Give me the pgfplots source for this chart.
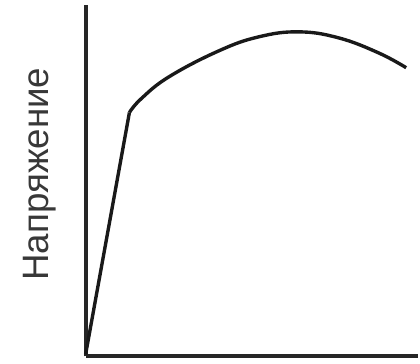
\documentclass[border=0pt]{standalone}
\usepackage{pgfplots}
\pgfplotsset{compat=1.18}
\usepackage{fontspec}
\setmainfont{Liberation Sans}
\definecolor{labelgray}{HTML}{383838}
\begin{document}
\begin{tikzpicture}[x=1bp,y=1bp]
\begin{axis}[
  at={(0,0)}, anchor=origin,
  scale only axis,
  width=334bp, height=353bp,
  xmin=0, xmax=334, ymin=0, ymax=353,
  axis lines=left,
  axis line style={line width=3.8bp, black!85, -},
  xtick=\empty, ytick=\empty,
  clip=false,
]
% elastic part
\addplot[line width=3.4bp, black!90] coordinates {(0,2) (44,245)};
% plastic part up to the ultimate stress and necking
\addplot[line width=3.4bp, black!90, smooth, tension=0.7] coordinates {
  (44,245) (56,259) (84,281) (134,307) (174,321) (214,326)
  (254,320) (294,305) (322,290)};
\end{axis}
\node[rotate=90, font=\fontsize{37}{40}\selectfont, text=labelgray] at (-46bp,183bp) {Напряжение};
\useasboundingbox (-86bp,-7bp) rectangle (334bp,358bp);
\end{tikzpicture}
\end{document}
